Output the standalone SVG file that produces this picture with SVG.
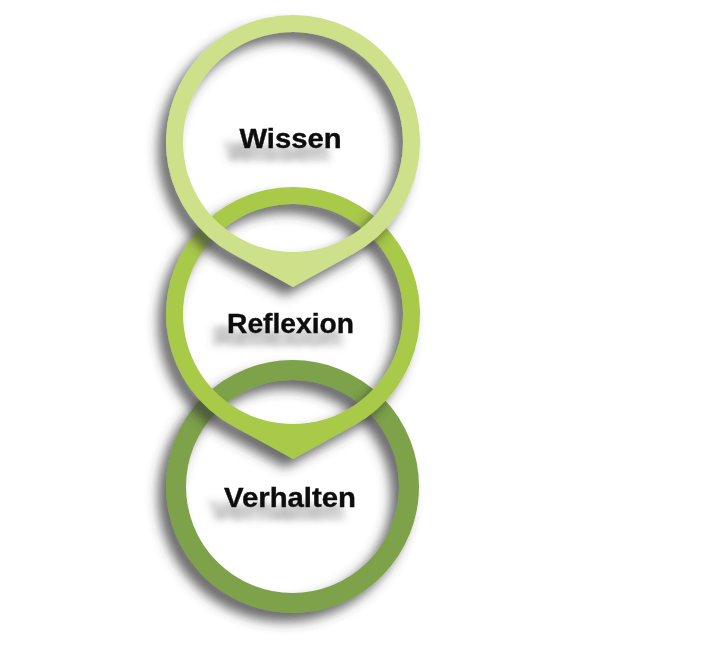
<svg xmlns="http://www.w3.org/2000/svg" width="716" height="651" viewBox="0 0 716 651">
  <style>
    .label { font-family: "Liberation Sans", Arial, sans-serif; font-weight: bold; font-size: 27px; fill: #111111; text-anchor: middle; stroke: #111111; stroke-width: 0.4; }
    .ring { fill-rule: evenodd; }
  </style>
  <defs>
    <filter id="ringShadow" x="-30%" y="-30%" width="160%" height="160%">
      <feGaussianBlur in="SourceAlpha" stdDeviation="6" result="b"/>
      <feOffset in="b" dx="-8" dy="9" result="o"/>
      <feFlood flood-color="#3a3a3a" flood-opacity="0.75" result="c"/>
      <feComposite in="c" in2="o" operator="in" result="s"/>
      <feMerge>
        <feMergeNode in="s"/>
        <feMergeNode in="SourceGraphic"/>
      </feMerge>
    </filter>
    <filter id="textShadow" x="-30%" y="-50%" width="160%" height="220%">
      <feGaussianBlur in="SourceAlpha" stdDeviation="5 3" result="b"/>
      <feOffset in="b" dx="-13" dy="13" result="o"/>
      <feFlood flood-color="#555555" flood-opacity="0.55" result="c"/>
      <feComposite in="c" in2="o" operator="in" result="s"/>
      <feMerge>
        <feMergeNode in="s"/>
        <feMergeNode in="SourceGraphic"/>
      </feMerge>
    </filter>
  </defs>
  <rect width="716" height="651" fill="#ffffff"/>

  <g id="verhalten" filter="url(#ringShadow)">
    <circle cx="292.5" cy="486.5" r="116.5" fill="none" stroke="#7da24a" stroke-width="20"/>
  </g>

  <g id="reflexion" filter="url(#ringShadow)">
    <path class="ring" fill="#a9c94a" d="M 293 459 L 354.3 425.2 A 127 127 0 1 0 231.7 425.2 Z M 293 424 A 110 110 0 1 0 292.99 424 Z"/>
  </g>

  <g id="wissen" filter="url(#ringShadow)">
    <path class="ring" fill="#cfe08b" d="M 293 287 L 354.3 253.2 A 127 127 0 1 0 231.7 253.2 Z M 293 252 A 110 110 0 1 0 292.99 252 Z"/>
  </g>

  <g id="labels" filter="url(#textShadow)">
    <text class="label" x="290.5" y="148" textLength="102" lengthAdjust="spacingAndGlyphs">Wissen</text>
    <text class="label" x="290.5" y="333" textLength="127" lengthAdjust="spacingAndGlyphs">Reflexion</text>
    <text class="label" x="290" y="507" textLength="132" lengthAdjust="spacingAndGlyphs">Verhalten</text>
  </g>
</svg>
